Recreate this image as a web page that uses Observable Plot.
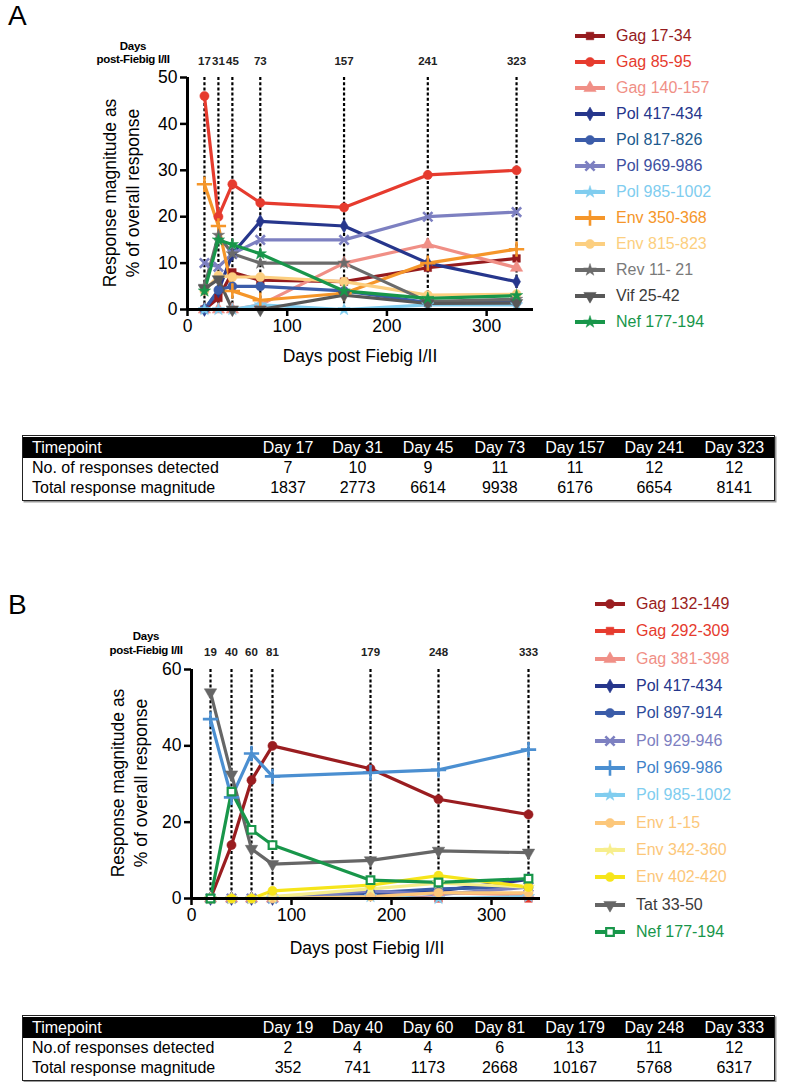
<!DOCTYPE html>
<html><head><meta charset="utf-8">
<script src="https://cdn.jsdelivr.net/npm/d3@7"></script>
<script src="https://cdn.jsdelivr.net/npm/@observablehq/plot@0.6"></script>
<style>
body{margin:0;background:#fff;font-family:"Liberation Sans",Arial,Helvetica,sans-serif;color:#000;}
#page{position:relative;width:796px;height:1082px;overflow:hidden;background:#fff;}
.letter{position:absolute;font-size:28px;line-height:28px;}
.ytitle{position:absolute;font-size:17.5px;line-height:23px;text-align:center;white-space:nowrap;transform:translate(-50%,-50%) rotate(-90deg);}
.xtitle{position:absolute;font-size:17.5px;line-height:20px;white-space:nowrap;transform:translate(-50%,-50%);}
.dayslbl{position:absolute;font-size:11.5px;font-weight:bold;line-height:13.5px;text-align:center;white-space:nowrap;transform:translate(-50%,-50%);letter-spacing:-0.3px;}
.legrow{position:absolute;height:16px;display:flex;align-items:center;font-size:16px;white-space:nowrap;transform:translateY(-50%);}
.legrow svg{margin-right:10px;overflow:visible;}
.tbl{position:absolute;left:22px;width:751px;border:1.5px solid #222;padding:1px 0 2px 0;box-shadow:1.5px 1.5px 0 #999;background:#fff;}
.tbl table{border-collapse:collapse;table-layout:fixed;width:751px;font-size:16px;}
.tbl td{padding:0;height:20px;line-height:20px;text-align:center;white-space:nowrap;}
.tbl td.lab{text-align:left;padding-left:9px;}
.tbl tr.hd td{background:#000;color:#fff;height:21px;line-height:21px;}
</style>
</head><body><div id="page"></div>
<script>
// ---------------- Panel A data ----------------
const timepointsA = [17, 31, 45, 73, 157, 241, 330];
const timepointLabelsA = ["17", "31", "45", "73", "157", "241", "323"];
const seriesA = ["Gag 17-34","Gag 85-95","Gag 140-157","Pol 417-434","Pol 817-826","Pol 969-986","Pol 985-1002","Env 350-368","Env 815-823","Rev 11- 21","Vif 25-42","Nef 177-194"];
const colorsA = ["#951b1e","#e63b2e","#f08f86","#26368c","#3b5ca9","#7d80c1","#80cdef","#f5962a","#fccf80","#6b6b6b","#585858","#18964a"];
const textColorsA = ["#951b1e","#e63b2e","#f08f86","#26368c","#1c5a8e","#3d4f9f","#80cdef","#f5962a","#fccf80","#7a7a7a","#3a3a3a","#18964a"];
const symbolsA = ["square","circle","triangle","diamond","circle","times","star","plus","circle","star","triangle-down","star"];
const gag17_34A   = [0, 2.5, 8, 6.3, 6, 9, 11];
const gag85_95A   = [46, 20, 27, 23, 22, 29, 30];
const gag140_157A = [0, 0, 0, 1, 10, 14, 9];
const pol417_434A = [0, 4, 12, 19, 18, 10, 6];
const pol817_826A = [0, 4.2, 5, 5, 4, 1.5, 1.5];
const pol969_986A = [10, 9.2, 12, 15, 15, 20, 21];
const pol985_1002A= [0, 0, 0, 1, 0, 1, 1];
const env350_368A = [27, 18, 4, 2, 3.5, 10, 13];
const env815_823A = [4, 7.3, 7, 7, 6, 3.1, 3.3];
const rev11_21A   = [5, 16, 12, 10, 10, 1.7, 2.2];
const vif25_42A   = [4.5, 6.5, 0, 0, 3.1, 1.3, 1.4];
const nef177_194A = [4, 15, 14, 12, 4, 2.4, 3];
const valuesA = [gag17_34A,gag85_95A,gag140_157A,pol417_434A,pol817_826A,pol969_986A,pol985_1002A,env350_368A,env815_823A,rev11_21A,vif25_42A,nef177_194A];
const tableHeadA = ["Timepoint","Day 17","Day 31","Day 45","Day 73","Day 157","Day 241","Day 323"];
const countsA = [7, 10, 9, 11, 11, 12, 12];
const totalsA = [1837, 2773, 6614, 9938, 6176, 6654, 8141];

// ---------------- Panel B data ----------------
const timepointsB = [19, 40, 60, 81, 179, 247, 337];
const timepointLabelsB = ["19", "40", "60", "81", "179", "248", "333"];
const seriesB = ["Gag 132-149","Gag 292-309","Gag 381-398","Pol 417-434","Pol 897-914","Pol 929-946","Pol 969-986","Pol 985-1002","Env 1-15","Env 342-360","Env 402-420","Tat 33-50","Nef 177-194"];
const colorsB = ["#9a1d20","#e63b2e","#f08f86","#26368c","#3b5ca9","#7d80c1","#4b8fd1","#80cdef","#fcc77a","#f7ee8c","#f6e51a","#666666","#18964a"];
const textColorsB = ["#9a1d20","#e63b2e","#f08f86","#26368c","#2e4c9c","#7d80c1","#3f82c8","#80cdef","#fcc77a","#fcc77a","#fcc77a","#3a3a3a","#18964a"];
const symbolsB = ["circle","square","triangle","diamond","circle","times","plus","star","circle","star","circle","triangle-down","open-square"];
const gag132_149B = [0, 14, 31, 40, 34, 26, 22];
const gag292_309B = [0, 0, 0, 0, 1, 0, 0];
const gag381_398B = [0, 0, 0, 0, 1, 1.5, 1];
const pol417_434B = [0, 0, 0, 0, 1, 2, 5];
const pol897_914B = [0, 0, 0, 0, 1.5, 2.5, 3];
const pol929_946B = [0, 0, 0, 0, 2, 1, 3];
const pol969_986B = [47, 26.5, 38, 32, 33, 33.7, 39];
const pol985_1002B= [0, 0, 0, 0, 0.5, 0, 0.5];
const env1_15B    = [0, 0, 0, 0, 0.5, 1.5, 1.5];
const env342_360B = [0, 0, 0, 0.5, 2.5, 4, 3];
const env402_420B = [0, 0, 0, 2, 3.5, 6, 3];
const tat33_50B   = [54, 32.5, 13, 9, 10, 12.5, 12];
const nef177_194B = [0, 28, 18, 14, 4.8, 4.2, 5.2];
const valuesB = [gag132_149B,gag292_309B,gag381_398B,pol417_434B,pol897_914B,pol929_946B,pol969_986B,pol985_1002B,env1_15B,env342_360B,env402_420B,tat33_50B,nef177_194B];
const tableHeadB = ["Timepoint","Day 19","Day 40","Day 60","Day 81","Day 179","Day 248","Day 333"];
const countsB = [2, 4, 4, 6, 13, 11, 12];
const totalsB = [352, 741, 1173, 2668, 10167, 5768, 6317];

const yTicksA = [0, 10, 20, 30, 40, 50];
const yTicksB = [0, 20, 40, 60];
const xTicks = [0, 100, 200, 300];

// ---------------- helpers ----------------
const page = document.getElementById("page");
function el(tag, cls, html, style) {
  const e = document.createElement(tag);
  if (cls) e.className = cls;
  if (html != null) e.innerHTML = html;
  if (style) Object.assign(e.style, style);
  page.appendChild(e);
  return e;
}
function symSpec(s) {
  if (s === "triangle-down") return {symbol: "triangle", rotate: 180, open: false};
  if (s === "open-square") return {symbol: "square", rotate: 0, open: true};
  return {symbol: s, rotate: 0, open: false};
}
function symR(s) {
  return ({square: 4.3, circle: 4.6, triangle: 4.6, diamond: 4.2, times: 4.3, star: 3.9, plus: 5.0})[s] || 4.5;
}

function makePanel(o) {
  const marks = [
    Plot.ruleX(o.times, {x: d => d, stroke: "#000", strokeWidth: 2.2, strokeDasharray: "3,2.2"}),
    Plot.text(o.times, {x: d => d, text: (d, i) => o.labels[i], frameAnchor: "top", dy: o.labelDy, fontWeight: "bold", fontSize: 11.5, fill: "#222"})
  ];
  o.values.forEach((vals, k) => {
    const data = o.times.map((t, i) => ({day: t, value: vals[i]}));
    marks.push(Plot.line(data, {x: "day", y: "value", stroke: o.colors[k], strokeWidth: 3.2, strokeLinejoin: "round"}));
  });
  o.values.forEach((vals, k) => {
    const data = o.times.map((t, i) => ({day: t, value: vals[i]}));
    const sp = symSpec(o.symbols[k]);
    const c = o.colors[k];
    const strokeSym = sp.symbol === "times" || sp.symbol === "plus";
    marks.push(Plot.dot(data, {
      x: "day", y: "value", symbol: sp.symbol, r: symR(sp.symbol), rotate: sp.rotate,
      fill: sp.open ? "#fff" : (strokeSym ? "none" : c),
      stroke: c, strokeWidth: sp.open ? 2.2 : (strokeSym ? 2.6 : 0.5)
    }));
  });
  marks.push(
    Plot.ruleX([0], {stroke: "#000", strokeWidth: 3}),
    Plot.ruleY([0], {stroke: "#000", strokeWidth: 3}),
    Plot.axisY({ticks: o.yTicks, tickSize: 7, tickPadding: 3, strokeWidth: 2.5, fontSize: 17.5, label: null}),
    Plot.axisX({ticks: xTicks, tickSize: 7, tickPadding: 3, strokeWidth: 2.5, fontSize: 17.5, label: null})
  );
  const svg = Plot.plot({
    width: 560, height: o.height,
    marginLeft: o.marginLeft, marginRight: o.marginRight, marginTop: o.marginTop, marginBottom: o.marginBottom,
    x: {domain: o.xDomain, label: null},
    y: {domain: o.yDomain, label: null},
    style: {fontFamily: "'Liberation Sans', Arial, sans-serif", fontSize: "17.5px", background: "transparent", overflow: "visible", color: "#000"},
    marks
  });
  svg.style.position = "absolute";
  svg.style.left = "0px";
  svg.style.top = o.top + "px";
  page.appendChild(svg);
}

function makeLegend(names, colors, textColors, symbols, x, y0, step) {
  const typeMap = {square: d3.symbolSquare, circle: d3.symbolCircle, triangle: d3.symbolTriangle, diamond: d3.symbolDiamond, times: d3.symbolTimes, star: d3.symbolStar, plus: d3.symbolPlus};
  names.forEach((n, i) => {
    const row = el("div", "legrow", null, {left: x + "px", top: (y0 + i * step) + "px", color: textColors[i]});
    const svg = d3.create("svg").attr("width", 32).attr("height", 16);
    svg.append("line").attr("x1", 1).attr("x2", 31).attr("y1", 8).attr("y2", 8)
      .attr("stroke", colors[i]).attr("stroke-width", 4);
    const sp = symSpec(symbols[i]);
    const r = symR(sp.symbol);
    const strokeSym = sp.symbol === "times" || sp.symbol === "plus";
    svg.append("path").attr("d", d3.symbol(typeMap[sp.symbol], Math.PI * r * r)())
      .attr("transform", `translate(16,8) rotate(${sp.rotate})`)
      .attr("fill", sp.open ? "#fff" : (strokeSym ? "none" : colors[i]))
      .attr("stroke", colors[i]).attr("stroke-width", sp.open ? 2.2 : (strokeSym ? 2.6 : 0.5));
    row.appendChild(svg.node());
    const s = document.createElement("span");
    s.textContent = n;
    row.appendChild(s);
  });
}

const colWidths = [230.5, 69, 70, 71, 72.5, 78, 80.5, 79.5];
function makeTable(top, head, countLabel, counts, totals) {
  const wrap = el("div", "tbl", null, {top: top + "px"});
  const t = document.createElement("table");
  const cg = document.createElement("colgroup");
  colWidths.forEach(w => { const c = document.createElement("col"); c.style.width = w + "px"; cg.appendChild(c); });
  t.appendChild(cg);
  const rows = [
    {cls: "hd", cells: head},
    {cls: "", cells: [countLabel, ...counts.map(String)]},
    {cls: "", cells: ["Total response magnitude", ...totals.map(String)]}
  ];
  rows.forEach(r => {
    const tr = document.createElement("tr");
    if (r.cls) tr.className = r.cls;
    r.cells.forEach((c, i) => {
      const td = document.createElement("td");
      if (i === 0) td.className = "lab";
      td.textContent = c;
      tr.appendChild(td);
    });
    t.appendChild(tr);
  });
  wrap.appendChild(t);
}

// ---------------- Panel A ----------------
el("div", "letter", "A", {left: "8px", top: "2px"});
el("div", "dayslbl", "Days<br>post-Fiebig I/II", {left: "133px", top: "52.5px"});
el("div", "ytitle", "Response magnitude as<br>% of overall response", {left: "121.5px", top: "193px"});
el("div", "xtitle", "Days post Fiebig I/II", {left: "360px", top: "356px"});
makePanel({top: 0, height: 369, marginLeft: 187, marginRight: 27, marginTop: 77, marginBottom: 60,
  xDomain: [0, 347], yDomain: [0, 50], yTicks: yTicksA, times: timepointsA, labels: timepointLabelsA,
  labelDy: -21, values: valuesA, colors: colorsA, symbols: symbolsA});
makeLegend(seriesA, colorsA, textColorsA, symbolsA, 574, 36, 26);
makeTable(435, tableHeadA, "No. of responses detected", countsA, totalsA);

// ---------------- Panel B ----------------
el("div", "letter", "B", {left: "8px", top: "591px"});
el("div", "dayslbl", "Days<br>post-Fiebig I/II", {left: "146px", top: "643px"});
el("div", "ytitle", "Response magnitude as<br>% of overall response", {left: "130px", top: "783px"});
el("div", "xtitle", "Days post Fiebig I/II", {left: "367px", top: "948px"});
makePanel({top: 590, height: 368, marginLeft: 191, marginRight: 20, marginTop: 79, marginBottom: 60,
  xDomain: [0, 349], yDomain: [0, 60], yTicks: yTicksB, times: timepointsB, labels: timepointLabelsB,
  labelDy: -22, values: valuesB, colors: colorsB, symbols: symbolsB});
makeLegend(seriesB, colorsB, textColorsB, symbolsB, 594, 604, 27.33);
makeTable(1015, tableHeadB, "No.of responses detected", countsB, totalsB);
</script>
</body></html>
